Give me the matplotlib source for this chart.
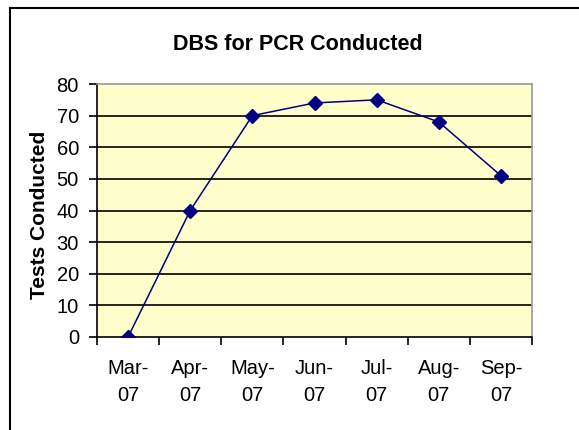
import matplotlib.pyplot as plt
from matplotlib.lines import Line2D

months = ['Mar-\n07', 'Apr-\n07', 'May-\n07', 'Jun-\n07', 'Jul-\n07', 'Aug-\n07', 'Sep-\n07']
tests = [0, 40, 70, 74, 75, 68, 51]
y_ticks = [0, 10, 20, 30, 40, 50, 60, 70, 80]

plt.rcParams['font.family'] = ['Liberation Sans', 'DejaVu Sans']

fig = plt.figure(figsize=(5.79, 4.30), dpi=100)
ax = fig.add_axes([97 / 579, 1 - 337 / 430, (532 - 97) / 579, (337 - 84) / 430])
ax.set_facecolor('#FFFFCC')

x = range(len(months))
ax.plot(x, tests, color='#000080', marker='D', markersize=7, linewidth=1.1, zorder=3)

ax.set_xlim(-0.5, len(months) - 0.5)
ax.set_ylim(0, 80)
ax.set_yticks(y_ticks)
ax.set_yticklabels([str(v) for v in y_ticks], fontsize=14.5)
for v in y_ticks[1:-1]:
    ax.axhline(v, color='black', linewidth=1.2, zorder=1)

ax.set_xticks([i + 0.5 for i in range(-1, len(months))])
ax.set_xticklabels([])
ax.set_xticks(list(x), minor=True)
ax.set_xticklabels(months, minor=True, fontsize=14.5, linespacing=1.55)
ax.tick_params(axis='x', which='minor', length=0, pad=16)
ax.tick_params(axis='x', which='major', length=6, width=1.2)
ax.tick_params(axis='y', length=6, width=1.2, pad=7)

for s in ['left', 'bottom']:
    ax.spines[s].set_linewidth(1.2)
    ax.spines[s].set_color('black')
for s in ['top', 'right']:
    ax.spines[s].set_color('#999999')
    ax.spines[s].set_linewidth(1.2)

fig.text(40 / 579, 1 - 215 / 430, 'Tests Conducted', ha='center', va='center',
         rotation=90, fontsize=15, fontweight='bold')
fig.text(298 / 579, 1 - 45 / 430, 'DBS for PCR Conducted', ha='center', va='center',
         fontsize=15.5, fontweight='bold')

# outer chart border
fig.add_artist(Line2D([10 / 579, 10 / 579], [0, 1 - 8 / 430], color='black', linewidth=1.5))
fig.add_artist(Line2D([10 / 579, 1], [1 - 8 / 430, 1 - 8 / 430], color='black', linewidth=1.5))

fig.savefig('out.png', dpi=100, facecolor='white')
